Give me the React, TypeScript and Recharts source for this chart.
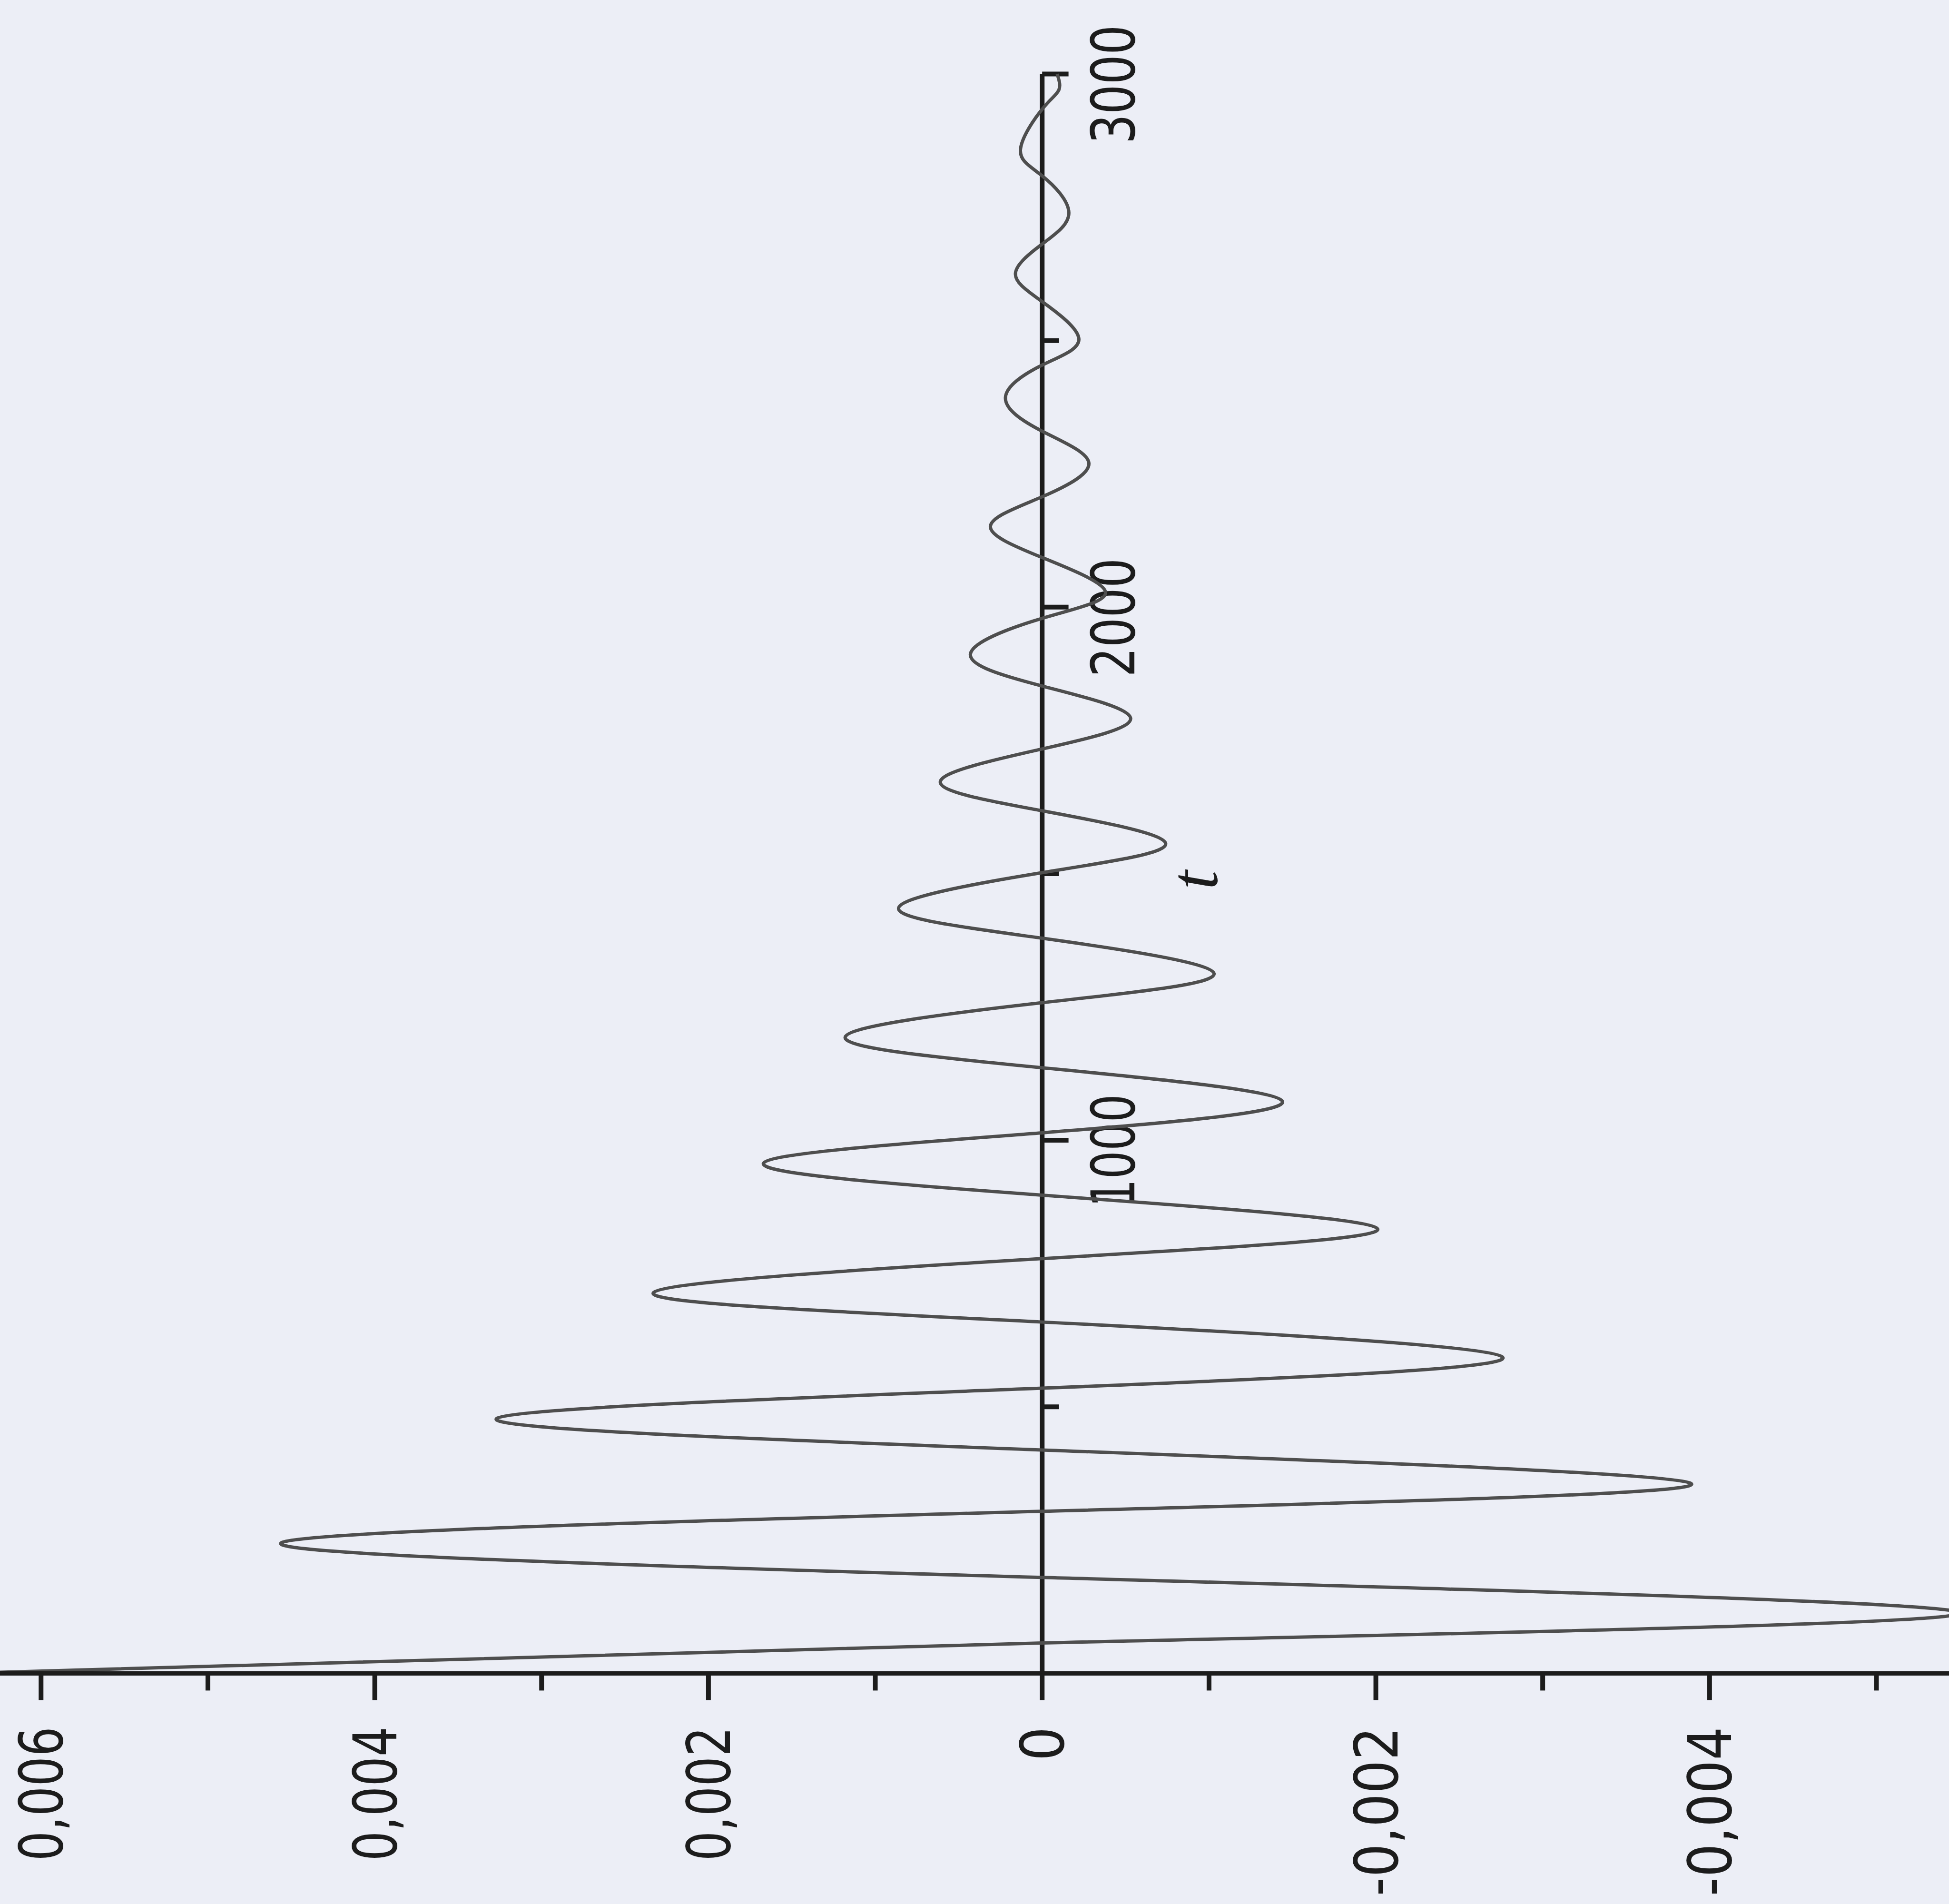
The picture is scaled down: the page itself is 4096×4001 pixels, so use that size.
import React from 'react';
import { LineChart, Line, XAxis, YAxis, ReferenceLine } from 'recharts';

// ---- data (t = time, displacement = value) ----
const TIME = [
  0, 57, 113, 180, 245, 304, 356, 419, 478, 535, 593, 659, 714, 778, 834, 897,
  957, 1014, 1073, 1136, 1194, 1258, 1313, 1379, 1436, 1502, 1557, 1618, 1673,
  1734, 1792, 1852, 1912, 1979, 2028, 2093, 2152, 2207, 2270, 2330, 2393, 2454,
  2503, 2573, 2626, 2681, 2740, 2809, 2858, 2934, 2970, 3000,
];
const DISPLACEMENT = [
  0.0065, 0, -0.0055, 0, 0.00456, 0, -0.00389, 0, 0.00327, 0, -0.00276, 0,
  0.00233, 0, -0.00201, 0, 0.00167, 0, -0.00144, 0, 0.00118, 0, -0.00103, 0,
  0.00086, 0, -0.00074, 0, 0.00061, 0, -0.00053, 0, 0.00043, 0, -0.00038, 0,
  0.00031, 0, -0.00028, 0, 0.00022, 0, -0.00022, 0, 0.00016, 0, -0.00016, 0,
  0.00013, 0, -0.0001, -0.00009,
];

const VALUE_TICKS = [0.006, 0.005, 0.004, 0.003, 0.002, 0.001, 0, -0.001, -0.002, -0.003, -0.004, -0.005];
const VALUE_TICK_LABELS = ['0,006', '', '0,004', '', '0,002', '', '0', '', '-0,002', '', '-0,004', ''];
const TIME_TICKS = [500, 1000, 1500, 2000, 2500, 3000];
const TIME_TICK_LABELS = ['', '1000', '', '2000', '', '3000'];
const TIME_AXIS_TITLE = 't';
const VALUE_DOMAIN: [number, number] = [-0.005435, 0.006246];
const TIME_DOMAIN: [number, number] = [0, 3000];

const curveData = TIME.map((t, i) => ({ t, v: DISPLACEMENT[i] }));

// ---- styling ----
const W = 4096;
const H = 4001;
const PAPER = '#eceef6';
const INK = '#1c1c1c';
const CURVE_INK = '#4e4e4e';
const LABEL_FONT = "'Liberation Sans Narrow', 'DejaVu Sans Condensed', 'Liberation Sans', sans-serif";
const LABEL_SIZE = 126;
const MAJOR_T_TICK = 0.000158;
const MINOR_T_TICK = 0.0001;

function valueLabelLength(text: string): number | undefined {
  if (text.length <= 1) return undefined;
  if (text.startsWith('-')) return 356;
  return 282;
}
function timeLabelLength(text: string): number {
  if (text === '1000') return 238;
  return 250;
}

const ValueTick = (props: any) => {
  const { x, y, payload } = props;
  const i = VALUE_TICKS.findIndex((v) => Math.abs(v - payload.value) < 1e-9);
  const label = i >= 0 ? VALUE_TICK_LABELS[i] : '';
  const major = label !== '';
  const len = major ? 56 : 36;
  const tl = valueLabelLength(label);
  return (
    <g>
      <line x1={x} y1={y} x2={x} y2={y + len} stroke={INK} strokeWidth={10} />
      {major && (
        <text
          transform={`translate(${x + 45}, ${y + 112}) rotate(-90)`}
          textAnchor="end"
          fontSize={LABEL_SIZE}
          fontFamily={LABEL_FONT}
          fill={INK}
          {...(tl ? { textLength: tl, lengthAdjust: 'spacingAndGlyphs' } : {})}
        >
          {label}
        </text>
      )}
    </g>
  );
};

const makeTimeLabel = (text: string) => (props: any) => {
  const vb = props.viewBox || {};
  if (!text) return null;
  const x = (vb.x ?? 0) + 194;
  const y = (vb.y ?? 0) + 22;
  return (
    <text
      transform={`translate(${x}, ${y}) rotate(-90)`}
      textAnchor="middle"
      fontSize={LABEL_SIZE}
      fontFamily={LABEL_FONT}
      fill={INK}
      textLength={timeLabelLength(text)}
      lengthAdjust="spacingAndGlyphs"
    >
      {text}
    </text>
  );
};

const axisTitle = (props: any) => {
  const vb = props.viewBox || {};
  const x = (vb.x ?? 0) + 368;
  const y = (vb.y ?? 0) + (vb.height ?? 0) * 0.504;
  return (
    <text
      transform={`translate(${x}, ${y}) rotate(-90)`}
      textAnchor="middle"
      fontSize={143}
      fontStyle="italic"
      fontFamily="'Liberation Serif', 'DejaVu Serif', serif"
      fill={INK}
    >
      {TIME_AXIS_TITLE}
    </text>
  );
};

export default function App() {
  return (
    <div style={{ position: 'absolute', left: 0, top: 0, width: W, height: H, background: PAPER, overflow: 'hidden' }}>
      <LineChart
        width={W}
        height={H}
        layout="vertical"
        margin={{ top: 155.5, right: 0, bottom: 0, left: 0 }}
      >
        <XAxis
          type="number"
          dataKey="v"
          domain={VALUE_DOMAIN}
          allowDataOverflow
          reversed
          ticks={VALUE_TICKS}
          interval={0}
          tick={<ValueTick />}
          tickLine={false}
          tickSize={0}
          tickMargin={0}
          height={484.6}
          axisLine={{ stroke: INK, strokeWidth: 9 }}
        />
        <YAxis type="number" dataKey="t" domain={TIME_DOMAIN} reversed hide />
        <ReferenceLine
          segment={[{ x: 0, y: TIME_DOMAIN[0] }, { x: 0, y: TIME_DOMAIN[1] }]}
          stroke={INK}
          strokeWidth={10}
          label={axisTitle}
        />
        {TIME_TICKS.map((t, i) => (
          <ReferenceLine
            key={`tt-${t}`}
            segment={[
              { x: 0, y: t },
              { x: -(TIME_TICK_LABELS[i] ? MAJOR_T_TICK : MINOR_T_TICK), y: t },
            ]}
            stroke={INK}
            strokeWidth={10}
            label={makeTimeLabel(TIME_TICK_LABELS[i])}
          />
        ))}
        <Line
          data={curveData}
          dataKey="v"
          type="natural"
          stroke={CURVE_INK}
          strokeWidth={7}
          dot={false}
          isAnimationActive={false}
        />
      </LineChart>
    </div>
  );
}
